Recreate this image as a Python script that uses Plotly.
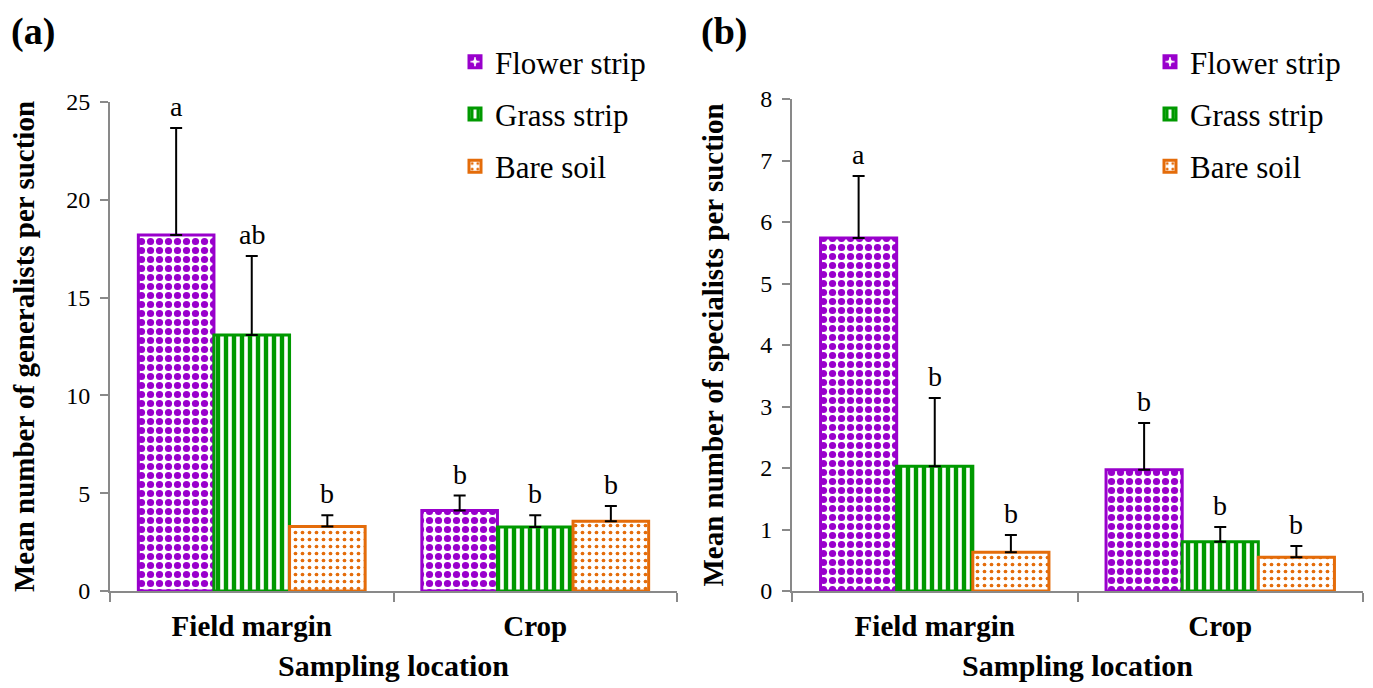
import plotly.graph_objects as go

categories = ["Field margin", "Crop"]
series = ["Flower strip", "Grass strip", "Bare soil"]

# Panel (a): generalists
gen_mean = {"Flower strip": [18.2, 4.12], "Grass strip": [13.09, 3.27], "Bare soil": [3.30, 3.57]}
gen_se = {"Flower strip": [5.47, 0.76], "Grass strip": [4.04, 0.60], "Bare soil": [0.57, 0.78]}
gen_letters = {"Flower strip": ["a", "b"], "Grass strip": ["ab", "b"], "Bare soil": ["b", "b"]}

# Panel (b): specialists
spe_mean = {"Flower strip": [5.74, 1.97], "Grass strip": [2.03, 0.80], "Bare soil": [0.63, 0.55]}
spe_se = {"Flower strip": [1.01, 0.76], "Grass strip": [1.11, 0.24], "Bare soil": [0.28, 0.18]}
spe_letters = {"Flower strip": ["a", "b"], "Grass strip": ["b", "b"], "Bare soil": ["b", "b"]}

gen_ticks = [0, 5, 10, 15, 20, 25]
spe_ticks = [0, 1, 2, 3, 4, 5, 6, 7, 8]

colors = {"Flower strip": "#9900CC", "Grass strip": "#009900", "Bare soil": "#E46C0A"}
patterns = {
    "Flower strip": dict(shape=".", size=9, solidity=0.5),
    "Grass strip": dict(shape="|", size=8, solidity=0.55),
    "Bare soil": dict(shape=".", size=7, solidity=0.22),
}

FONT = "Liberation Serif"
GREY = "#898989"
PAGE_OFF = 8            # default body margin of the HTML page
W, H = 1373 - PAGE_OFF, 688 - PAGE_OFF
BARGAP = 0.2


def fx(px):
    return (px - PAGE_OFF) / W


def fy(py):
    return 1 - (py - PAGE_OFF) / H


fig = go.Figure()

panels = [
    ("x", "y", "legend", gen_mean, gen_se, gen_letters),
    ("x2", "y2", "legend2", spe_mean, spe_se, spe_letters),
]

annotations = []
for xa, ya, lg, means, ses, letters in panels:
    for j, s in enumerate(series):
        pat = dict(patterns[s])
        pat.update(fgcolor=colors[s], bgcolor="white", fillmode="replace")
        fig.add_trace(go.Bar(
            name=s, x=categories, y=means[s],
            xaxis=xa, yaxis=ya, legend=lg, legendgroup=lg + s,
            marker=dict(color=colors[s], pattern=pat,
                        line=dict(color=colors[s], width=3)),
            error_y=dict(type="data", symmetric=False, array=ses[s],
                         arrayminus=[0] * len(categories),
                         color="black", thickness=2, width=6),
        ))
        off = (j - 1) * (1 - BARGAP) / len(series)
        for i, c in enumerate(categories):
            annotations.append(dict(
                x=i + off, y=means[s][i] + ses[s][i], xref=xa, yref=ya,
                text=letters[s][i], showarrow=False, yanchor="bottom", yshift=4,
                font=dict(family=FONT, size=28, color="black")))

annotations.append(dict(x=fx(9), y=fy(32), xref="paper", yref="paper",
                        text="<b>(a)</b>", showarrow=False, xanchor="left", yanchor="middle",
                        font=dict(family=FONT, size=38, color="black")))
annotations.append(dict(x=fx(699), y=fy(32), xref="paper", yref="paper",
                        text="<b>(b)</b>", showarrow=False, xanchor="left", yanchor="middle",
                        font=dict(family=FONT, size=38, color="black")))

xcommon = dict(type="category", showline=True, linecolor=GREY, linewidth=2,
               ticks="outside", tickson="boundaries", ticklen=9, tickcolor=GREY,
               tickwidth=2, showgrid=False, zeroline=False, automargin=False,
               ticklabelstandoff=8,
               tickfont=dict(family=FONT, size=29, color="black"),
               title=dict(text="<b>Sampling location</b>", standoff=14,
                          font=dict(family=FONT, size=30, color="black")))
ycommon = dict(showline=True, linecolor=GREY, linewidth=2, ticks="outside",
               ticklen=8, tickcolor=GREY, tickwidth=2, showgrid=False,
               zeroline=False, automargin=False, ticklabelstandoff=5,
               tickfont=dict(family=FONT, size=24, color="black"))

fig.update_layout(
    width=W, height=H, margin=dict(l=0, r=0, t=0, b=0),
    paper_bgcolor="white", plot_bgcolor="white",
    barmode="group", bargap=BARGAP, bargroupgap=0,
    font=dict(family=FONT, color="black"),
    xaxis=dict(xcommon, domain=[fx(110), fx(677)], anchor="y",
               tickvals=categories, ticktext=["<b>Field margin</b>", "<b>Crop</b>"]),
    xaxis2=dict(xcommon, domain=[fx(792), fx(1363)], anchor="y2",
                tickvals=categories, ticktext=["<b>Field margin</b>", "<b>Crop</b>"]),
    yaxis=dict(ycommon, domain=[fy(591), fy(102)], range=[0, 25],
               tickvals=gen_ticks, anchor="x",
               title=dict(text="<b>Mean number of generalists per suction</b>", standoff=23,
                          font=dict(family=FONT, size=29, color="black"))),
    yaxis2=dict(ycommon, domain=[fy(591), fy(99)], range=[0, 8],
                tickvals=spe_ticks, anchor="x2",
                title=dict(text="<b>Mean number of specialists per suction</b>", standoff=28,
                           font=dict(family=FONT, size=29, color="black"))),
    legend=dict(x=fx(455), y=fy(35), xanchor="left", yanchor="top",
                font=dict(family=FONT, size=31, color="black"),
                tracegroupgap=9, bgcolor="rgba(0,0,0,0)"),
    legend2=dict(x=fx(1150), y=fy(35), xanchor="left", yanchor="top",
                 font=dict(family=FONT, size=31, color="black"),
                 tracegroupgap=9, bgcolor="rgba(0,0,0,0)"),
    annotations=annotations,
)

fig.write_html("out.html")
